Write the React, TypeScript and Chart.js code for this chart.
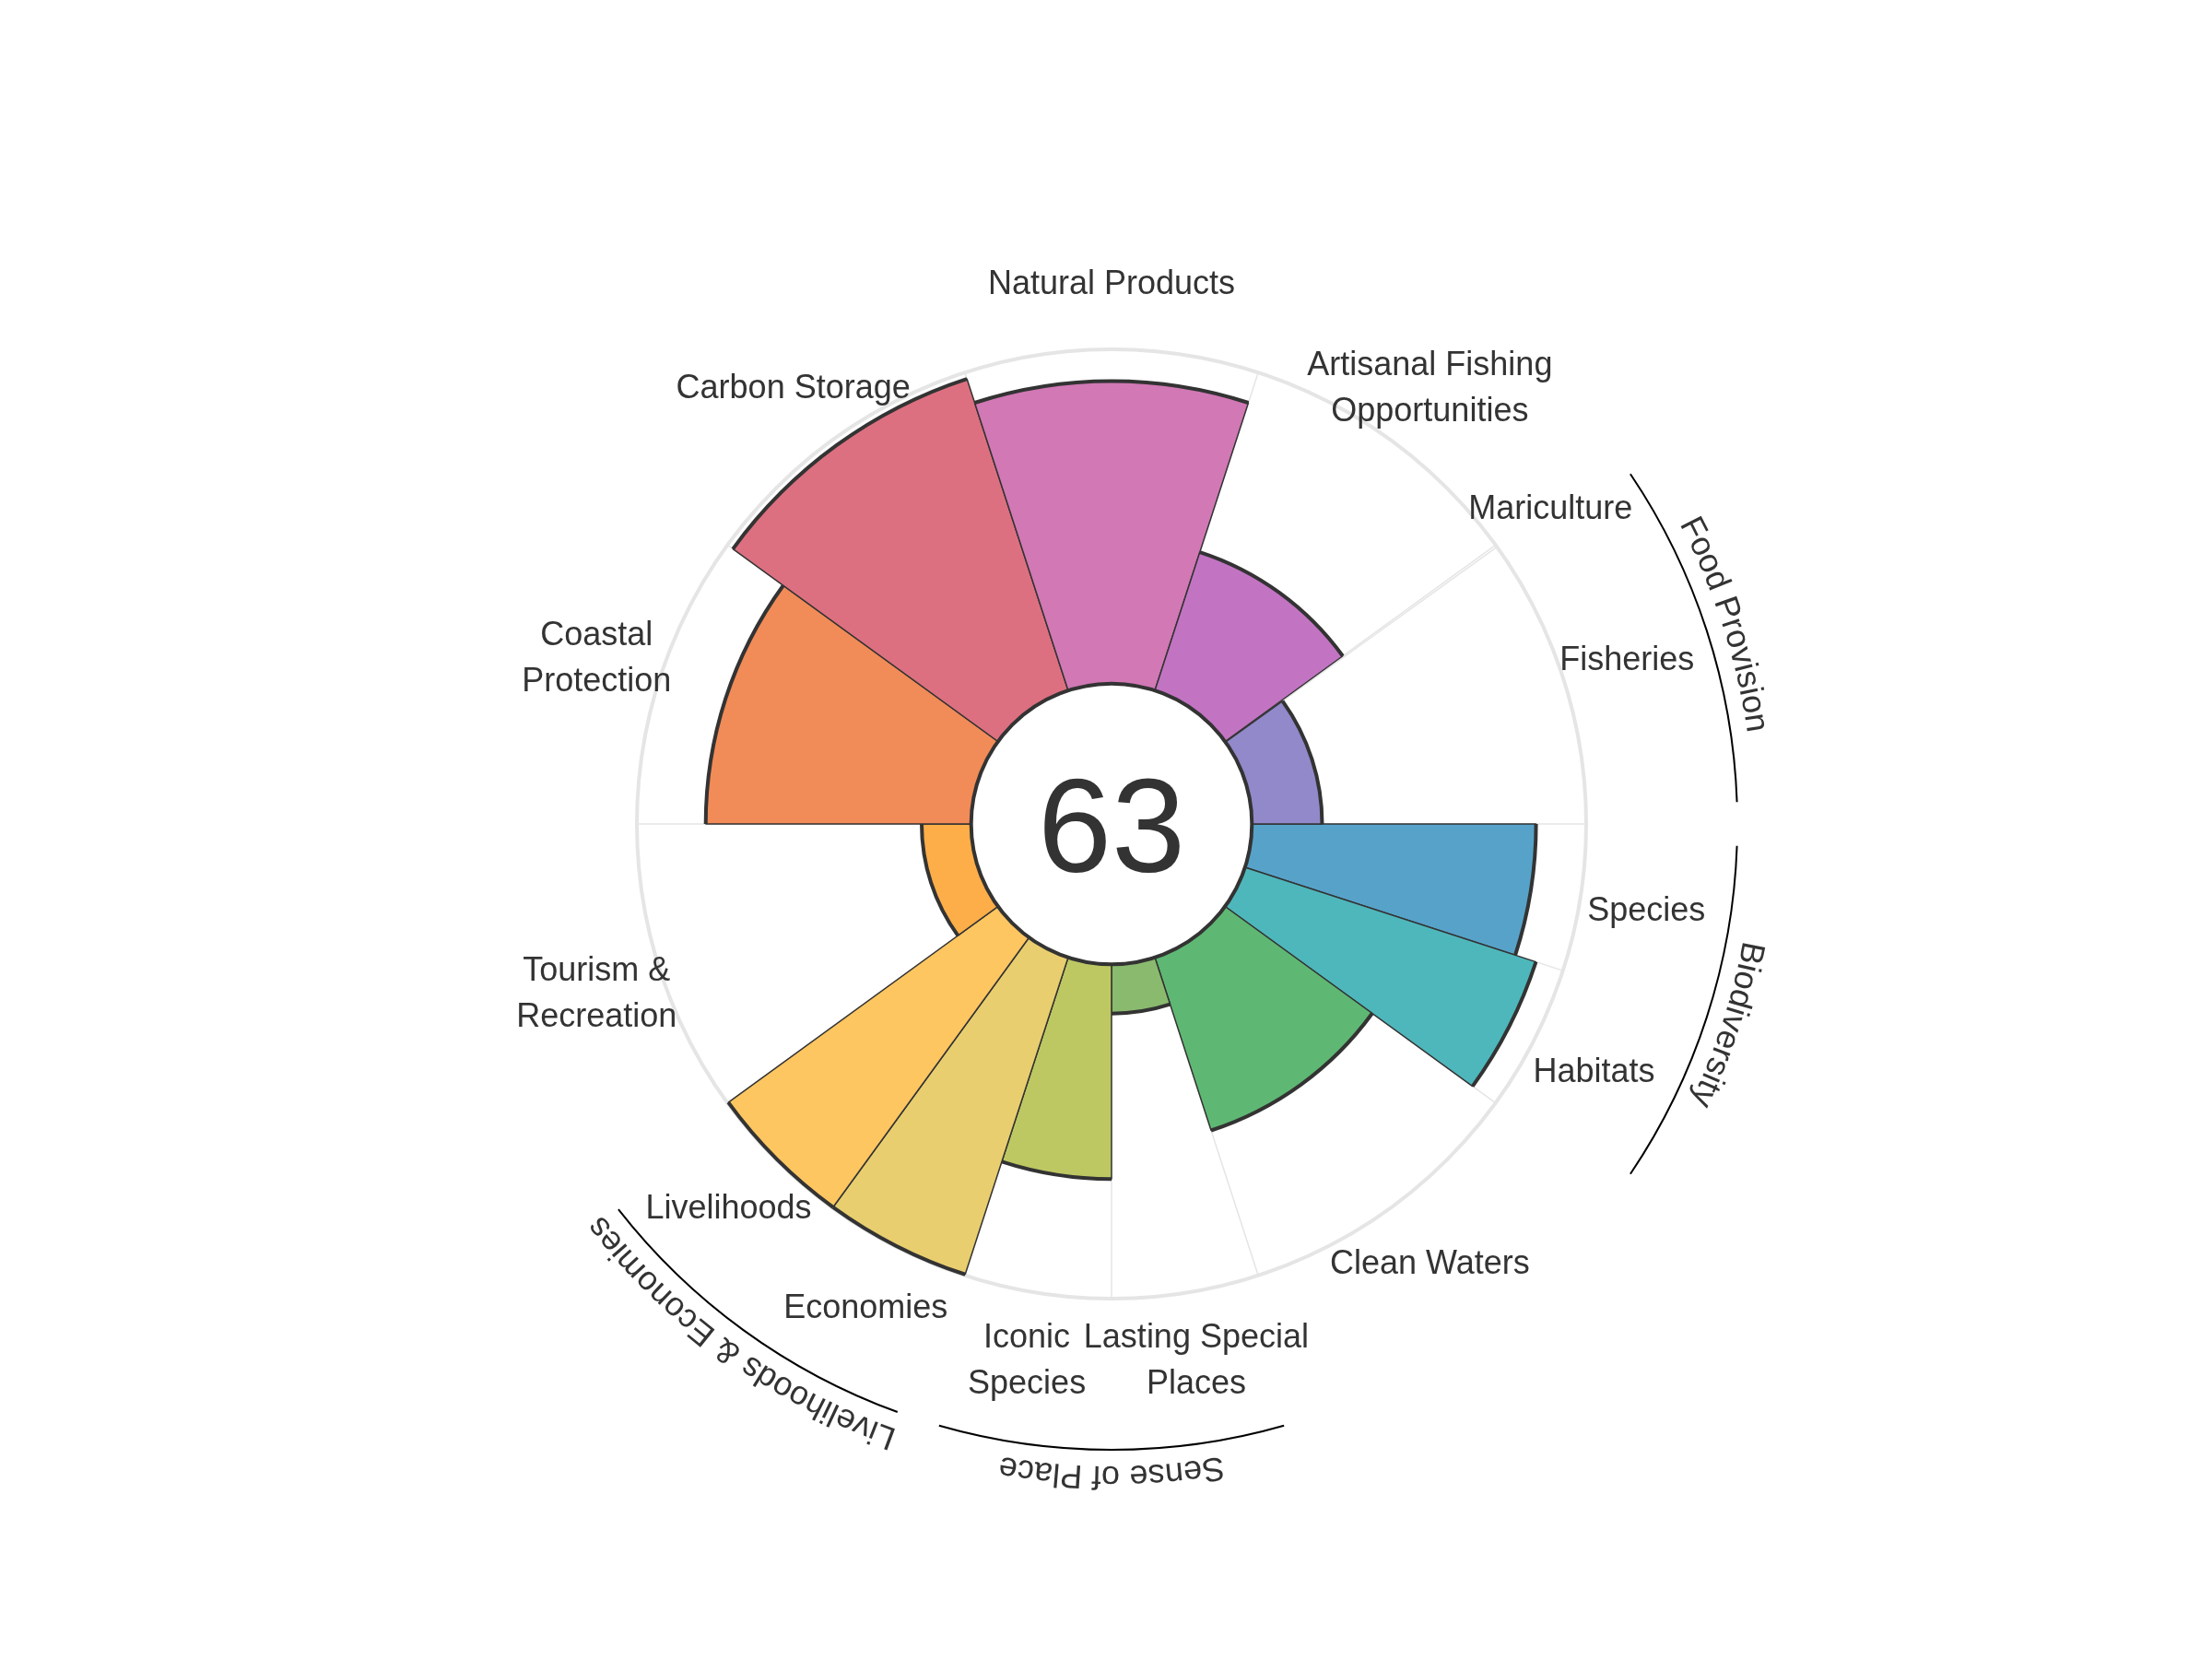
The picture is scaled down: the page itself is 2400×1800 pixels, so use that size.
import React, { useEffect, useRef } from "react";
import { Chart, registerables } from "chart.js";

Chart.register(...registerables);

// Petals in clockwise order starting at "east"
const goals = [
  "Species",
  "Habitats",
  "Clean Waters",
  "Lasting Special Places",
  "Iconic Species",
  "Economies",
  "Livelihoods",
  "Tourism & Recreation",
  "Coastal Protection",
  "Carbon Storage",
  "Natural Products",
  "Artisanal Fishing Opportunities",
  "Mariculture",
  "Fisheries",
];
const labelLines = [
  ["Species"],
  ["Habitats"],
  ["Clean Waters"],
  ["Lasting Special", "Places"],
  ["Iconic", "Species"],
  ["Economies"],
  ["Livelihoods"],
  ["Tourism &", "Recreation"],
  ["Coastal", "Protection"],
  ["Carbon Storage"],
  ["Natural Products"],
  ["Artisanal Fishing", "Opportunities"],
  ["Mariculture"],
  ["Fisheries"],
];
const scores: (number | null)[] = [85, 91.5, 54.4, 14.7, 64.2, 99.7, 99.7, 14.8, 79.4, 98, 90.5, 43.5, null, 21];
const petalWidths = [18, 18, 36, 18, 18, 18, 18, 36, 36, 36, 36, 36, 0.3, 35.7];
const petalColors = [
  "#57A2C9",
  "#4EB7BC",
  "#5EB873",
  "#8ABA6E",
  "#BEC863",
  "#E9CE6F",
  "#FDC660",
  "#FDAE48",
  "#F18B57",
  "#DD7080",
  "#D178B5",
  "#C274C3",
  "#A9A3D6",
  "#9189CA",
];
const overallScore = 63;
const groupNames = ["Biodiversity", "Sense of Place", "Livelihoods & Economies", "Food Provision"];
const groupMembers = [
  [0, 1],
  [3, 4],
  [5, 6],
  [12, 13],
];

const FONT = "'Liberation Sans', Arial, Helvetica, sans-serif";
const TEXT = "#333333";

function drawCurvedText(ctx: CanvasRenderingContext2D, text: string, cx: number, cy: number, R: number, mid: number) {
  const total = ctx.measureText(text).width;
  let a = mid - total / 2 / R;
  for (const ch of text) {
    const w = ctx.measureText(ch).width;
    const ang = a + w / 2 / R;
    ctx.save();
    ctx.translate(cx + R * Math.cos(ang), cy + R * Math.sin(ang));
    ctx.rotate(ang + Math.PI / 2);
    ctx.fillText(ch, 0, 0);
    ctx.restore();
    a += w / R;
  }
}

const flowerPlugin = {
  id: "flower",
  beforeDatasetsDraw(chart: any) {
    const ctx: CanvasRenderingContext2D = chart.ctx;
    const r = chart.scales.r;
    const cx = r.xCenter;
    const cy = r.yCenter;
    const rOut = r.getDistanceFromCenterForValue(100);
    const rIn = r.getDistanceFromCenterForValue(0);
    const arcs = chart.getDatasetMeta(0).data;
    ctx.save();
    ctx.strokeStyle = "#e5e5e5";
    ctx.lineWidth = 1.5;
    arcs.forEach((el: any) => {
      const a = el.startAngle;
      ctx.beginPath();
      ctx.moveTo(cx + rIn * Math.cos(a), cy + rIn * Math.sin(a));
      ctx.lineTo(cx + rOut * Math.cos(a), cy + rOut * Math.sin(a));
      ctx.stroke();
    });
    ctx.lineWidth = 4;
    ctx.beginPath();
    ctx.arc(cx, cy, rOut, 0, Math.PI * 2);
    ctx.stroke();
    ctx.restore();
  },
  afterDatasetsDraw(chart: any) {
    const ctx: CanvasRenderingContext2D = chart.ctx;
    const r = chart.scales.r;
    const cx = r.xCenter;
    const cy = r.yCenter;
    const rIn = r.getDistanceFromCenterForValue(0);
    const arcs = chart.getDatasetMeta(0).data;
    ctx.save();
    // thick outer edges
    ctx.strokeStyle = "#333333";
    ctx.lineWidth = 4;
    ctx.lineCap = "butt";
    arcs.forEach((el: any, i: number) => {
      if (scores[i] === null) return;
      ctx.beginPath();
      ctx.arc(cx, cy, el.outerRadius, el.startAngle, el.endAngle);
      ctx.stroke();
    });
    // hole
    ctx.beginPath();
    ctx.arc(cx, cy, rIn, 0, Math.PI * 2);
    ctx.fillStyle = "#ffffff";
    ctx.fill();
    ctx.lineWidth = 4;
    ctx.stroke();
    // center score
    ctx.fillStyle = TEXT;
    ctx.textAlign = "center";
    ctx.textBaseline = "alphabetic";
    ctx.font = `144px ${FONT}`;
    ctx.fillText(String(overallScore), cx, cy + 52);
    // petal labels
    ctx.font = `36px ${FONT}`;
    const rLab = r.getDistanceFromCenterForValue(120);
    arcs.forEach((el: any, i: number) => {
      const mid = (el.startAngle + el.endAngle) / 2;
      const lx = cx + rLab * Math.cos(mid);
      const ly = cy + rLab * Math.sin(mid);
      const lines = labelLines[i];
      lines.forEach((t, k) => {
        const yy = ly + (k - (lines.length - 1) / 2) * 50 + 13;
        ctx.fillText(t, lx, yy);
      });
    });
    // group arcs and names
    const rArc = 679;
    const rGroupText = 697;
    const inset = (2 * Math.PI) / 180;
    groupNames.forEach((name, g) => {
      const mem = groupMembers[g];
      const a0 = arcs[mem[0]].startAngle;
      const a1 = arcs[mem[mem.length - 1]].endAngle;
      ctx.strokeStyle = "#000000";
      ctx.lineWidth = 2;
      ctx.beginPath();
      ctx.arc(cx, cy, rArc, a0 + inset, a1 - inset);
      ctx.stroke();
      ctx.fillStyle = TEXT;
      drawCurvedText(ctx, name, cx, cy, rGroupText, (a0 + a1) / 2);
    });
    ctx.restore();
  },
};

export default function App() {
  const ref = useRef<HTMLCanvasElement>(null);
  useEffect(() => {
    if (!ref.current) return;
    const chart = new Chart(ref.current, {
      type: "polarArea",
      data: {
        labels: goals,
        datasets: [
          {
            data: scores.map((v) => (v === null ? 0 : v)),
            backgroundColor: petalColors,
            borderColor: "#333333",
            borderWidth: 1.5,
            angle: petalWidths,
          } as any,
        ],
      },
      options: {
        responsive: false,
        devicePixelRatio: 1,
        animation: false,
        layout: { padding: { left: 691, right: 679, top: 379, bottom: 391 } },
        plugins: { legend: { display: false }, tooltip: { enabled: false } },
        scales: {
          r: {
            min: -42,
            max: 100,
            startAngle: 90,
            ticks: { display: false },
            grid: { display: false },
            angleLines: { display: false },
            pointLabels: { display: false },
          },
        },
      } as any,
      plugins: [flowerPlugin],
    });
    return () => chart.destroy();
  }, []);
  return (
    <div style={{ position: "absolute", left: 0, top: 0, width: 2400, height: 1800, background: "#ffffff" }}>
      <canvas ref={ref} width={2400} height={1800} style={{ display: "block", width: 2400, height: 1800 }} />
    </div>
  );
}
